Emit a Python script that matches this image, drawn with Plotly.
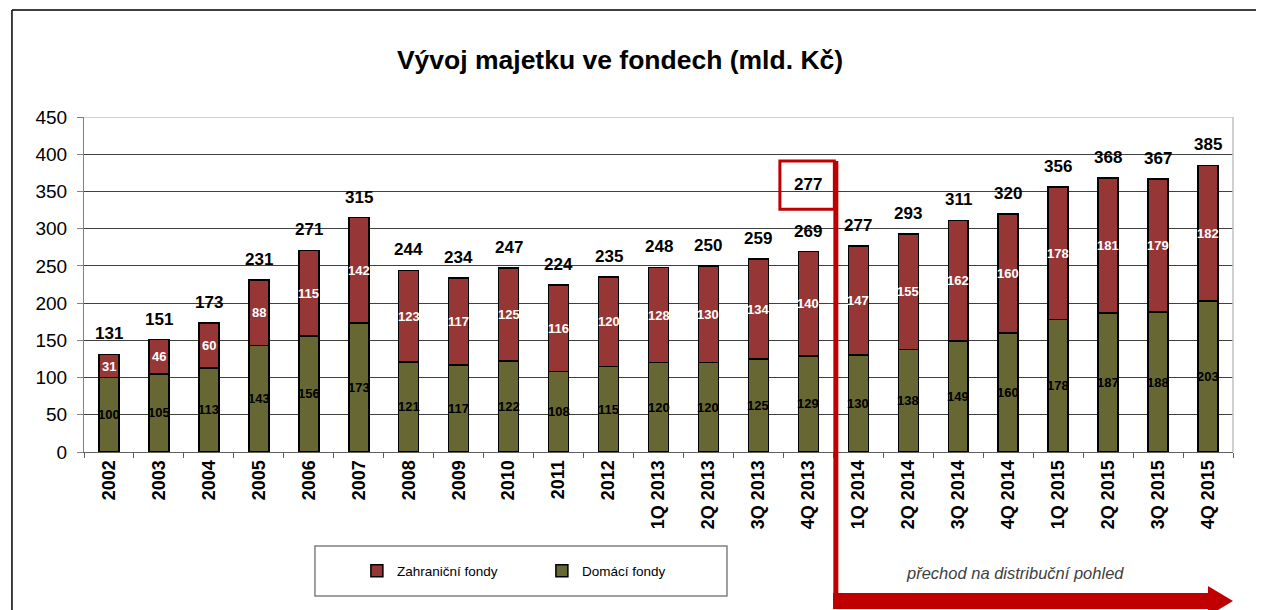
import plotly.graph_objects as go

categories = ["2002", "2003", "2004", "2005", "2006", "2007", "2008", "2009", "2010",
              "2011", "2012", "1Q 2013", "2Q 2013", "3Q 2013", "4Q 2013",
              "1Q 2014", "2Q 2014", "3Q 2014", "4Q 2014",
              "1Q 2015", "2Q 2015", "3Q 2015", "4Q 2015"]
domaci = [100, 105, 113, 143, 156, 173, 121, 117, 122, 108, 115, 120, 120, 125, 129,
          130, 138, 149, 160, 178, 187, 188, 203]
zahranicni = [31, 46, 60, 88, 115, 142, 123, 117, 125, 116, 120, 128, 130, 134, 140,
              147, 155, 162, 160, 178, 181, 179, 182]
celkem = [131, 151, 173, 231, 271, 315, 244, 234, 247, 224, 235, 248, 250, 259, 269,
          277, 293, 311, 320, 356, 368, 367, 385]
y_ticks = [0, 50, 100, 150, 200, 250, 300, 350, 400, 450]

FONT = "Liberation Sans, Arial, sans-serif"
OLIVE = "#666733"
RED = "#963735"
DARKRED = "#c00000"

fig = go.Figure()
fig.add_trace(go.Bar(
    x=categories, y=domaci, name="Domácí fondy",
    marker=dict(color=OLIVE, line=dict(color="black", width=1.5)),
))
fig.add_trace(go.Bar(
    x=categories, y=zahranicni, name="Zahraniční fondy",
    marker=dict(color=RED, line=dict(color="black", width=1.5)),
))

annotations = []
for i, (d, z, t) in enumerate(zip(domaci, zahranicni, celkem)):
    # segment value labels (centered in each segment)
    annotations.append(dict(
        x=i, y=d / 2, xref="x", yref="y", text=str(d), showarrow=False,
        xanchor="center", yanchor="middle",
        font=dict(family=FONT, size=13, color="black", weight="bold")))
    annotations.append(dict(
        x=i, y=d + z / 2, xref="x", yref="y", text=str(z), showarrow=False,
        xanchor="center", yanchor="middle",
        font=dict(family=FONT, size=13, color="white", weight="bold")))
    # totals above the bars
    annotations.append(dict(
        x=i, y=t, xref="x", yref="y", text=str(t), showarrow=False,
        xanchor="center", yanchor="bottom", yshift=9,
        font=dict(family=FONT, size=17, color="black", weight="bold")))

# callout of the 1Q 2014 total in the red box
i_4q13 = categories.index("4Q 2013")
i_1q14 = categories.index("1Q 2014")
annotations.append(dict(
    x=i_4q13, y=360, xref="x", yref="y", text=str(celkem[i_1q14]), showarrow=False,
    xanchor="center", yanchor="middle",
    font=dict(family=FONT, size=17, color="black", weight="bold")))

annotations.append(dict(
    x=0.8103, y=-0.361, xref="paper", yref="paper", text="<i>přechod na distribuční pohled</i>",
    showarrow=False, xanchor="center", yanchor="middle",
    font=dict(family=FONT, size=16.5, color="#404040")))

split_x = i_4q13 + 0.52
shapes = [
    dict(type="line", xref="paper", yref="y", x0=0, x1=1, y0=450, y1=450,
         line=dict(color="#c0c0c0", width=1.5), layer="above"),
    dict(type="line", xref="paper", yref="y", x0=1, x1=1, y0=0, y1=450,
         line=dict(color="#c0c0c0", width=1.5), layer="above"),
    dict(type="rect", xref="x", yref="y", x0=i_4q13 - 0.57, x1=split_x, y0=326, y1=391,
         line=dict(color=DARKRED, width=3), layer="above"),
    dict(type="line", xref="x", yref="paper", x0=split_x + 0.03, x1=split_x + 0.03,
         y0=391 / 450, y1=-0.455, line=dict(color=DARKRED, width=5), layer="above"),
    dict(type="path", xref="paper", yref="paper",
         path="M 0.6519,-0.4209 L 0.9782,-0.4209 L 0.9782,-0.40 L 1.0,-0.4448 "
              "L 0.9782,-0.4896 L 0.9782,-0.4687 L 0.6519,-0.4687 Z",
         fillcolor=DARKRED, line=dict(width=0), layer="above"),
    dict(type="rect", xref="paper", yref="paper", x0=0.201, x1=0.5596, y0=-0.43, y1=-0.2806,
         line=dict(color="#808080", width=1.5), layer="above"),
    dict(type="line", xref="paper", yref="paper", x0=-0.0627, x1=1.03, y0=1.3194, y1=1.3194,
         line=dict(color="black", width=1.5)),
    dict(type="line", xref="paper", yref="paper", x0=-0.0627, x1=-0.0627, y0=1.3194, y1=-0.5,
         line=dict(color="black", width=1.5)),
]

# page body has an 8px margin, so margins are offset by 8px
fig.update_layout(
    width=1264, height=610,
    margin=dict(l=76, r=39, t=109, b=166),
    paper_bgcolor="white", plot_bgcolor="white",
    barmode="stack", bargap=0.6,
    title=dict(text="<b>Vývoj majetku ve fondech (mld. Kč)</b>", x=0.4665, xref="paper",
               xanchor="center", y=1 - 52 / 610, yref="container", yanchor="middle",
               font=dict(family=FONT, size=26.5, color="black")),
    font=dict(family=FONT, color="black"),
    xaxis=dict(type="category", range=[-0.5, len(categories) - 0.5],
               showgrid=False, showline=True, linecolor="#606060",
               linewidth=1, ticks="outside", ticklen=5, tickcolor="#606060",
               tickson="boundaries", tickangle=-90,
               tickfont=dict(family=FONT, size=18, color="black", weight="bold")),
    yaxis=dict(range=[0, 450], tickvals=y_ticks, showgrid=True, gridcolor="#404040",
               gridwidth=1, zeroline=False, showline=True, linecolor="#808080",
               ticks="outside", ticklen=6, tickcolor="#808080", ticklabelstandoff=6,
               tickfont=dict(family=FONT, size=19, color="black")),
    showlegend=True,
    legend=dict(orientation="h", traceorder="reversed", x=0.2375, y=-0.355,
                xanchor="left", yanchor="middle", bgcolor="rgba(0,0,0,0)",
                entrywidth=140, font=dict(family=FONT, size=13.5, color="black")),
    annotations=annotations,
    shapes=shapes,
)

fig.write_html("out.html")
